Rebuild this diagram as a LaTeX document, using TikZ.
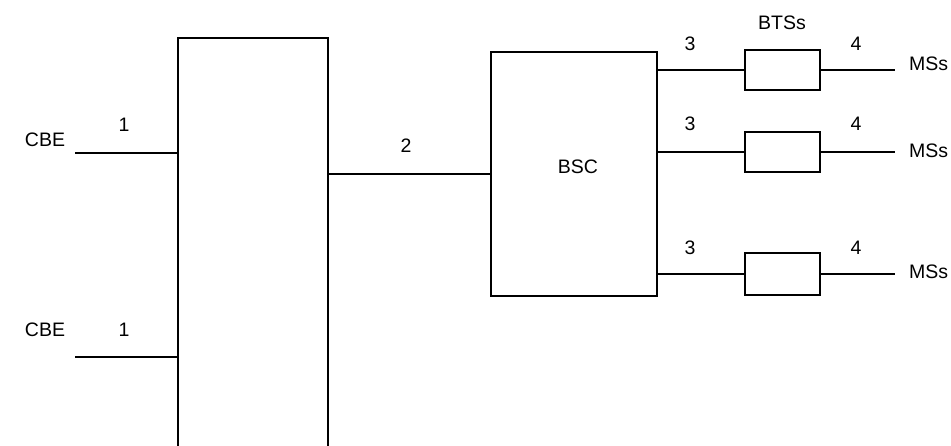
\documentclass[tikz,border=0pt]{standalone}
\usepackage{fontspec}
\setmainfont{Liberation Sans}
\begin{document}
\begin{tikzpicture}[x=1pt,y=-1pt,
  box/.style={draw, line width=2pt, inner sep=0pt, rectangle},
  wire/.style={line width=2pt},
  lbl/.style={font=\fontsize{19.5}{22}\selectfont, inner sep=0pt}]
\useasboundingbox (0,0) rectangle (951,445);
\clip (0,0) rectangle (951,445);
% boxes
\node[box, minimum width=150, minimum height=432] (sw) at (253,254) {};
\node[box, minimum width=166, minimum height=244] (bsc) at (574,174) {};
\node[box, minimum width=75, minimum height=40] (bts1) at (782.5,70) {};
\node[box, minimum width=75, minimum height=40] (bts2) at (782.5,152) {};
\node[box, minimum width=75, minimum height=42] (bts3) at (782.5,274) {};
% free ends
\coordinate (c1) at (75,153);
\coordinate (c2) at (75,357);
\coordinate (m1) at (895,70);
\coordinate (m2) at (895,152);
\coordinate (m3) at (895,274);
% connectors
\draw[wire] (c1) -- (c1 -| sw.west);
\draw[wire] (c2) -- (c2 -| sw.west);
\draw[wire] (bsc.west -| sw.east) -- (bsc.west);
\draw[wire] (bts1.west -| bsc.east) -- (bts1.west);
\draw[wire] (bts2.west -| bsc.east) -- (bts2.west);
\draw[wire] (bts3.west -| bsc.east) -- (bts3.west);
\draw[wire] (bts1.east) -- (m1);
\draw[wire] (bts2.east) -- (m2);
\draw[wire] (bts3.east) -- (m3);
% labels
\node[lbl] (tcbe1) at (45,140) {CBE};
\node[lbl] (tcbe2) at (45,330) {CBE};
\node[lbl] (t11) at (124,125) {1};
\node[lbl] (t12) at (124,330) {1};
\node[lbl] (t2) at (406,146) {2};
\node[lbl] (tbsc) at (578,167) {BSC};
\node[lbl] (tbts) at (782,23) {BTSs};
\node[lbl] (t31) at (690,44) {3};
\node[lbl] (t32) at (690,124) {3};
\node[lbl] (t33) at (690,248) {3};
\node[lbl] (t41) at (856,44) {4};
\node[lbl] (t42) at (856,124) {4};
\node[lbl] (t43) at (856,248) {4};
\node[lbl, anchor=west] (ms1) at (909,64) {MSs};
\node[lbl, anchor=west] (ms2) at (909,151) {MSs};
\node[lbl, anchor=west] (ms3) at (909,272) {MSs};
\end{tikzpicture}
\end{document}
